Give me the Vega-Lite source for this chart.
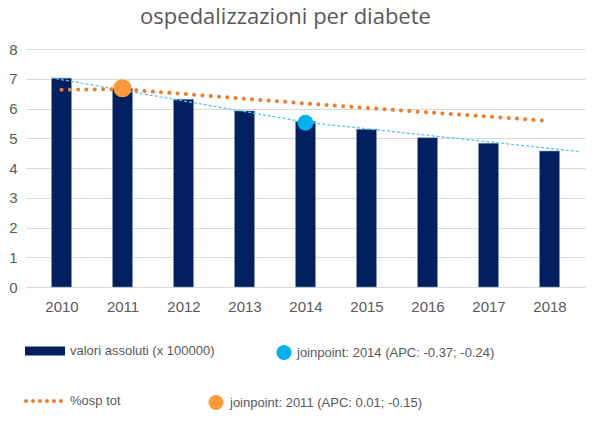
{
  "$schema": "https://vega.github.io/schema/vega-lite/v6.json",
  "width": 559,
  "height": 238,
  "autosize": {"type": "none"},
  "padding": {"left": 26, "top": 49, "right": 18, "bottom": 136},
  "title": {
    "text": "ospedalizzazioni per diabete",
    "font": "Open Sans",
    "fontSize": 22,
    "fontWeight": "normal",
    "color": "#595959",
    "anchor": "middle",
    "baseline": "top",
    "offset": 13,
    "dx": -20
  },
  "datasets": {
    "bars": [
      {"year": 2010, "value": 7.02},
      {"year": 2011, "value": 6.68},
      {"year": 2012, "value": 6.31},
      {"year": 2013, "value": 5.92},
      {"year": 2014, "value": 5.56},
      {"year": 2015, "value": 5.30},
      {"year": 2016, "value": 5.02},
      {"year": 2017, "value": 4.83},
      {"year": 2018, "value": 4.57}
    ],
    "pct": [
      {"year": 2010, "value": 6.63},
      {"year": 2011, "value": 6.65},
      {"year": 2012, "value": 6.49},
      {"year": 2013, "value": 6.33},
      {"year": 2014, "value": 6.17},
      {"year": 2015, "value": 6.02},
      {"year": 2016, "value": 5.87},
      {"year": 2017, "value": 5.73},
      {"year": 2018, "value": 5.58}
    ],
    "joinfit": [
      {"year": 2009.83, "value": 7.03},
      {"year": 2014, "value": 5.54},
      {"year": 2018.5, "value": 4.55}
    ],
    "jp2014": [{"year": 2014, "value": 5.52}],
    "jp2011": [{"year": 2011, "value": 6.68}]
  },
  "encoding": {
    "x": {
      "field": "year", "type": "quantitative",
      "scale": {"domain": [2009.5, 2018.5], "nice": false, "zero": false},
      "axis": {"values": [2010, 2011, 2012, 2013, 2014, 2015, 2016, 2017, 2018], "format": "d", "title": null, "grid": false, "domain": false, "ticks": false, "labelPadding": 12, "labelOverlap": false, "labelFlush": false}
    },
    "y": {
      "field": "value", "type": "quantitative",
      "scale": {"domain": [0, 8], "nice": false},
      "axis": {"values": [0, 1, 2, 3, 4, 5, 6, 7, 8], "title": null, "grid": true, "domain": false, "ticks": false, "labelPadding": 9, "labelOverlap": false, "labelFlush": false}
    }
  },
  "layer": [
    {
      "data": {"name": "bars"},
      "mark": {"type": "bar", "size": 20, "stroke": "#8497B0", "strokeWidth": 0.6},
      "encoding": {
        "color": {
          "datum": "valori assoluti (x 100000)", "type": "nominal",
          "scale": {"range": ["#002060"]},
          "legend": {"orient": "none", "legendX": -1, "legendY": 292, "title": null, "symbolType": "M-1,-0.45H3V0.45H-1Z", "symbolSize": 400, "labelOffset": 25, "symbolStrokeWidth": 0}
        }
      }
    },
    {
      "data": {"name": "joinfit"},
      "mark": {"type": "line", "color": "#4FC3F0", "strokeWidth": 1.25, "strokeDash": [3, 2]},
      "encoding": {}
    },
    {
      "data": {"name": "pct"},
      "mark": {"type": "line", "strokeWidth": 4, "strokeDash": [0.1, 8.2], "strokeCap": "round"},
      "encoding": {
        "color": {
          "datum": "%osp tot", "type": "nominal",
          "scale": {"range": ["#ED7D31"]},
          "legend": {"orient": "none", "legendX": -2, "legendY": 342, "title": null, "symbolType": "M-1,0a0.2,0.2 0 1,0 0.4,0a0.2,0.2 0 1,0 -0.4,0ZM-0.3,0a0.2,0.2 0 1,0 0.4,0a0.2,0.2 0 1,0 -0.4,0ZM0.4,0a0.2,0.2 0 1,0 0.4,0a0.2,0.2 0 1,0 -0.4,0ZM1.1,0a0.2,0.2 0 1,0 0.4,0a0.2,0.2 0 1,0 -0.4,0ZM1.8,0a0.2,0.2 0 1,0 0.4,0a0.2,0.2 0 1,0 -0.4,0ZM2.5,0a0.2,0.2 0 1,0 0.4,0a0.2,0.2 0 1,0 -0.4,0Z", "symbolSize": 400, "labelOffset": 26, "symbolFillColor": "#ED7D31", "symbolStrokeWidth": 0}
        }
      }
    },
    {
      "data": {"name": "jp2014"},
      "mark": {"type": "point", "shape": "circle", "filled": true, "opacity": 1, "size": 250},
      "encoding": {
        "color": {
          "datum": "joinpoint: 2014 (APC: -0.37; -0.24)", "type": "nominal",
          "scale": {"range": ["#00B0F0"]},
          "legend": {"orient": "none", "legendX": 249.5, "legendY": 295, "title": null, "symbolType": "circle", "symbolSize": 225, "labelOffset": 4.5, "symbolOpacity": 1}
        }
      }
    },
    {
      "data": {"name": "jp2011"},
      "mark": {"type": "point", "shape": "circle", "filled": true, "opacity": 1, "size": 330},
      "encoding": {
        "color": {
          "datum": "joinpoint: 2011 (APC: 0.01; -0.15)", "type": "nominal",
          "scale": {"range": ["#FA9A3C"]},
          "legend": {"orient": "none", "legendX": 181.5, "legendY": 345, "title": null, "symbolType": "circle", "symbolSize": 225, "labelOffset": 5.5, "symbolOpacity": 1}
        }
      }
    }
  ],
  "resolve": {"scale": {"color": "independent"}},
  "config": {
    "view": {"stroke": null},
    "axis": {
      "labelFont": "Liberation Sans",
      "labelFontSize": 15,
      "labelColor": "#595959",
      "gridColor": "#D9D9D9",
      "gridWidth": 1
    },
    "legend": {
      "labelFont": "Liberation Sans",
      "labelFontSize": 13,
      "labelColor": "#595959",
      "labelLimit": 0,
      "padding": 0
    }
  }
}
